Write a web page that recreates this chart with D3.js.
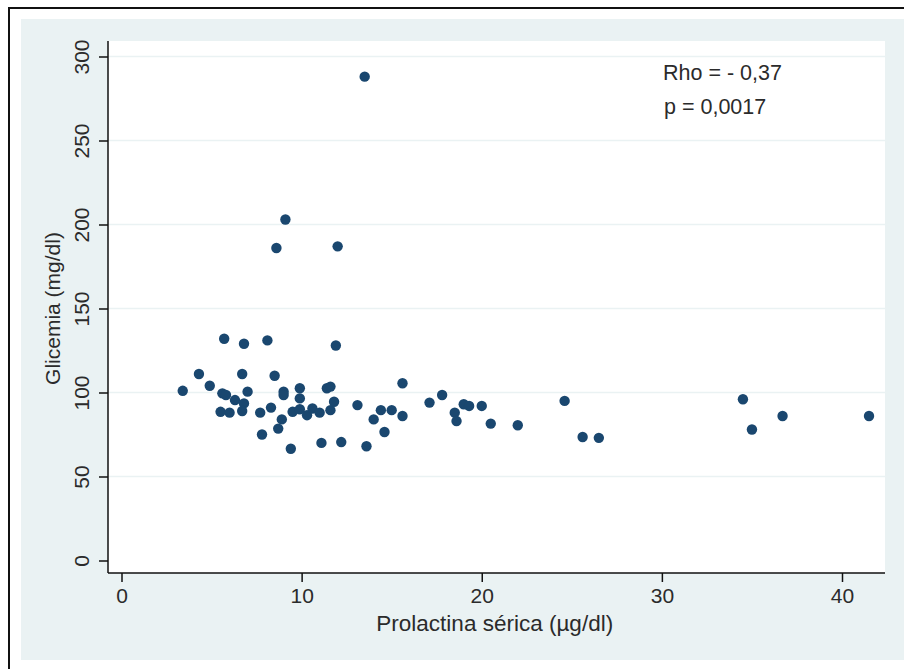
<!DOCTYPE html>
<html lang="pt">
<head>
  <meta charset="UTF-8">
  <title>Glicemia vs Prolactina</title>
  <script src="https://cdn.jsdelivr.net/npm/d3@7"></script>
  <style>
    body {
      margin: 0;
      background: #fff;
      overflow: hidden;
    }

    text {
      font-family: "Liberation Sans", Arial, sans-serif;
      fill: #2b2b2b;
    }
  </style>
</head>
<body>
<svg id="canvas" width="904" height="669"></svg>
<script>
  // prolactina sérica (µg/dl)
  const prolactina = [13.5, 9.1, 8.6, 12.0, 5.7, 6.8, 8.1, 11.9, 4.3, 6.7, 8.5, 3.4, 4.9, 5.6, 5.8,
    6.3, 7.0, 6.8, 5.5, 6.0, 6.7, 7.7, 8.3, 9.0, 9.0, 9.9, 9.9, 9.5, 9.9, 10.3, 10.6, 11.0, 11.6,
    11.4, 11.6, 11.8, 8.9, 8.7, 7.8, 9.4, 11.1, 12.2, 13.6, 13.1, 14.0, 14.4, 15.0, 15.6, 14.6,
    15.6, 17.1, 17.8, 18.5, 18.6, 19.0, 19.3, 20.0, 20.5, 22.0, 24.6, 25.6, 26.5, 34.5, 35.0,
    36.7, 41.5];
  // glicemia (mg/dl)
  const glicemia = [288, 203, 186, 187, 132, 129, 131, 128, 111, 111, 110, 101, 104, 99.5, 98.5,
    95.5, 100.5, 93.5, 88.5, 88, 89, 88, 91, 100.5, 98.5, 102.5, 96.5, 88.5, 90, 86.5, 90.5, 88,
    89.5, 102.5, 103.5, 94.5, 84, 78.5, 75, 66.5, 70, 70.5, 68, 92.5, 84, 89.5, 89.5, 86, 76.5,
    105.5, 94, 98.5, 88, 83, 93, 92, 92, 81.5, 80.5, 95, 73.5, 73, 96, 78, 86, 86];

  const xTicks = [0, 10, 20, 30, 40];
  const yTicks = [0, 50, 100, 150, 200, 250, 300];
  const notes = ["Rho = - 0,37", "p = 0,0017"];

  const svg = d3.select("#canvas");
  const plotL = 108, plotR = 885, plotT = 41, plotB = 573;

  let x = d3.scaleLinear().domain([0, 40]).range([121.5, 842]);
  let y = d3.scaleLinear().domain([0, 300]).range([560.5, 56.5]);

  // outer frame and graph region
  svg.append("rect")
      .attr("x", 9).attr("y", 8)
      .attr("width", 910).attr("height", 680)
      .attr("fill", "#fff")
      .attr("stroke", "#111")
      .attr("stroke-width", 2);

  svg.append("rect")
      .attr("x", 21).attr("y", 19)
      .attr("width", 890).attr("height", 641)
      .attr("fill", "#eaf2f3");

  svg.append("rect")
      .attr("x", plotL).attr("y", plotT)
      .attr("width", plotR - plotL).attr("height", plotB - plotT)
      .attr("fill", "#fff");

  // grid
  svg.append("g")
      .selectAll("line")
      .data(yTicks.filter(d => d > 0))
      .join("line")
      .attr("x1", plotL).attr("x2", plotR)
      .attr("y1", d => y(d)).attr("y2", d => y(d))
      .attr("stroke", "#eaf2f3")
      .attr("stroke-width", 1.5);

  // axes
  let xAxis = svg.append("g")
      .attr("transform", `translate(0,${plotB})`)
      .call(d3.axisBottom(x).tickValues(xTicks).tickSize(9).tickPadding(6).tickSizeOuter(0));
  xAxis.select(".domain").remove();
  xAxis.append("line")
      .attr("x1", plotL).attr("x2", plotR)
      .attr("stroke", "#111").attr("stroke-width", 1.5);
  xAxis.selectAll(".tick line").attr("stroke", "#111").attr("stroke-width", 1.5);
  xAxis.selectAll(".tick text")
      .attr("font-size", 21)
      .attr("fill", "#2b2b2b");

  let yAxis = svg.append("g")
      .attr("transform", `translate(${plotL},0)`)
      .call(d3.axisLeft(y).tickValues(yTicks).tickSize(9).tickSizeOuter(0));
  yAxis.select(".domain").remove();
  yAxis.append("line")
      .attr("y1", plotT).attr("y2", plotB)
      .attr("stroke", "#111").attr("stroke-width", 1.5);
  yAxis.selectAll(".tick line").attr("stroke", "#111").attr("stroke-width", 1.5);
  yAxis.selectAll(".tick text")
      .attr("font-size", 21)
      .attr("fill", "#2b2b2b")
      .attr("x", 0).attr("dy", 0)
      .attr("text-anchor", "middle")
      .attr("transform", "translate(-19,0) rotate(-90)");

  // titles
  svg.append("text")
      .attr("x", (x(0) + x(40)) / 2 + 13)
      .attr("y", 631)
      .attr("text-anchor", "middle")
      .attr("font-size", 22.5)
      .text("Prolactina sérica (µg/dl)");

  svg.append("text")
      .attr("transform", `translate(60,${(y(100) + y(200)) / 2}) rotate(-90)`)
      .attr("text-anchor", "middle")
      .attr("font-size", 21)
      .text("Glicemia (mg/dl)");

  svg.append("g")
      .selectAll("text")
      .data(notes)
      .join("text")
      .attr("x", (d, i) => 663 + i)
      .attr("y", (d, i) => 80 + i * 34)
      .attr("font-size", 21.5)
      .text(d => d);

  // points
  svg.append("g")
      .selectAll("circle")
      .data(prolactina.map((p, i) => [p, glicemia[i]]))
      .join("circle")
      .attr("cx", d => x(d[0]))
      .attr("cy", d => y(d[1]))
      .attr("r", 5.2)
      .attr("fill", "#1a476f");
</script>
</body>
</html>
